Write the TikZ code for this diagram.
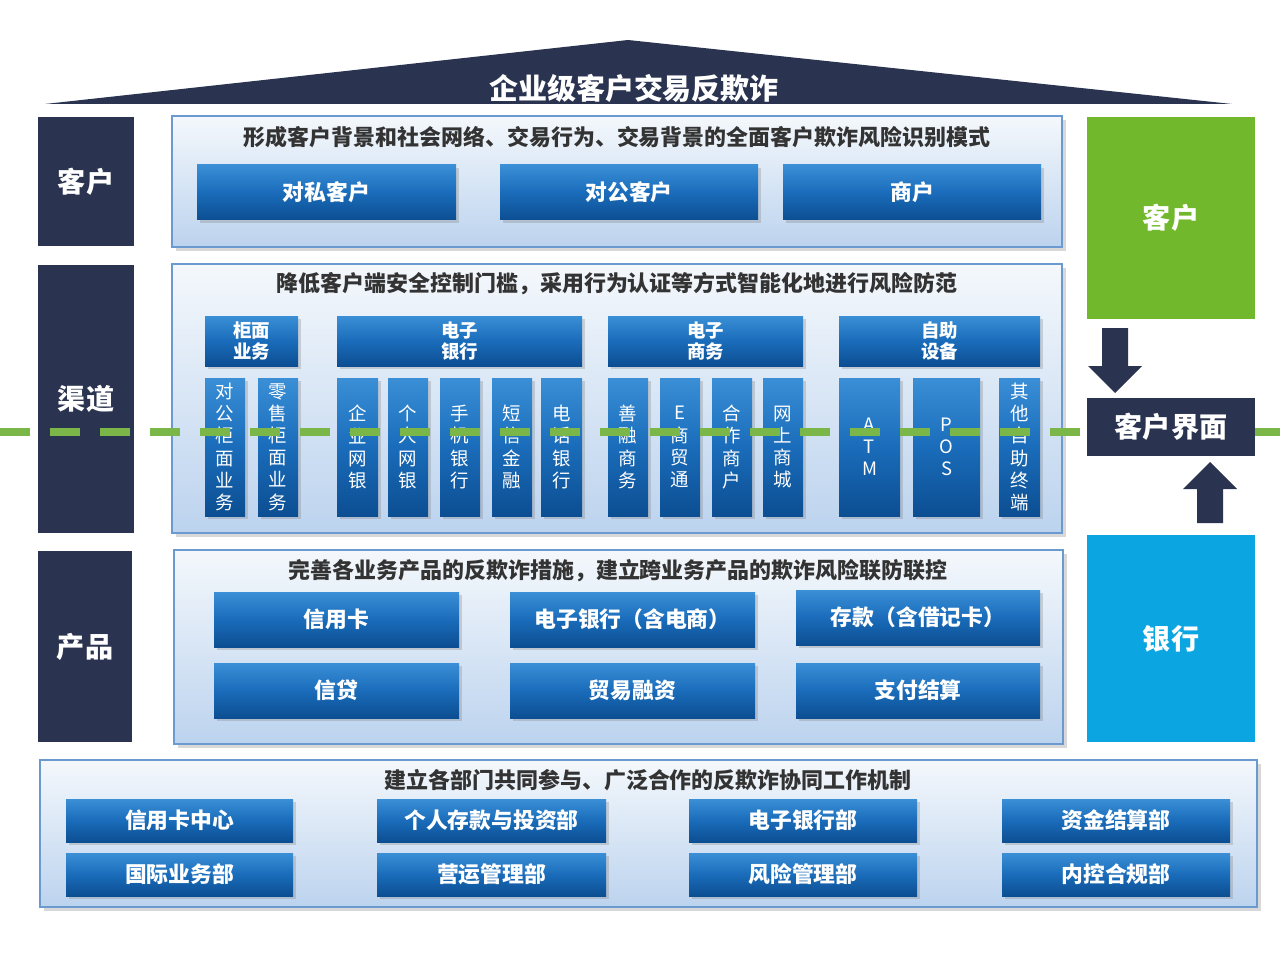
\documentclass[tikz,border=0pt]{standalone}
\usepackage{fontspec}
\setmainfont{Noto Sans CJK SC}
\usetikzlibrary{shadows}
\definecolor{navy}{HTML}{2A3350}
\definecolor{lgreen}{HTML}{72B82C}
\definecolor{cyanb}{HTML}{0BA5E2}
\definecolor{dgreen}{HTML}{7AB648}
\definecolor{btop}{HTML}{3A8FD6}
\definecolor{bmid}{HTML}{1A6CBA}
\definecolor{bbot}{HTML}{0C4E92}
\definecolor{ptop}{HTML}{F4F8FC}
\definecolor{pbot}{HTML}{BCD3EE}
\definecolor{pbord}{HTML}{6A9ACF}
\tikzset{
  panel/.style={draw=pbord,line width=0.8pt,top color=ptop,bottom color=pbot,drop shadow={opacity=0.3,shadow xshift=2pt,shadow yshift=-2pt}},
  bbox/.style={top color=btop,bottom color=bbot,middle color=bmid,drop shadow={opacity=0.3,shadow xshift=1.5pt,shadow yshift=-1.5pt},text=white,font=\bfseries\fontsize{12.4}{14}\selectfont},
  side/.style={fill=navy,text=white,font=\bfseries\fontsize{16}{18}\selectfont},
  head/.style={font=\bfseries\fontsize{12.5}{14}\selectfont,text=black!80},
  vtxt/.style={text=white,font=\fontsize{10.5}{12.6}\selectfont,align=center},
  ghead/.style={text=white,font=\bfseries\fontsize{10.5}{12}\selectfont,align=center},
}
\begin{document}
\begin{tikzpicture}[x=0.02cm,y=-0.02cm]
\useasboundingbox (0,0) rectangle (1280,976);
\fill[white] (0,0) rectangle (1280,976);
% roof
\fill[navy] (45,104) -- (628,40) -- (1232,104) -- cycle;
\node[text=white,font=\bfseries\fontsize{16.5}{18}\selectfont] (title) at (634,88) {企业级客户交易反欺诈};
% left labels
\path[side] (38,117) rectangle (134,246) node[midway] (lk) {客户};
\path[side] (38,265) rectangle (134,533) node[midway] (lq) {渠道};
\path[side] (38,551) rectangle (132,742) node[midway] (lp) {产品};
% customer panel
\path[panel] (172,116) rectangle (1062,247);
\node[head] (h1) at (617,137) {形成客户背景和社会网络、交易行为、交易背景的全面客户欺诈风险识别模式};
\path[bbox] (197,165) rectangle (456,220) node[midway] (c1) {对私客户};
\path[bbox] (500,165) rectangle (758,220) node[midway] (c2) {对公客户};
\path[bbox] (783,165) rectangle (1041,220) node[midway] (c3) {商户};
% channel panel
\path[panel] (172,264) rectangle (1062,533);
\node[head] (h2) at (617,284) {降低客户端安全控制门槛，采用行为认证等方式智能化地进行风险防范};
\path[bbox] (205,316) rectangle (298,366) node[midway,ghead] (g1) {柜面\\业务};
\path[bbox] (337,316) rectangle (582,366) node[midway,ghead] (g2) {电子\\银行};
\path[bbox] (608,316) rectangle (803,366) node[midway,ghead] (g3) {电子\\商务};
\path[bbox] (839,316) rectangle (1040,366) node[midway,ghead] (g4) {自助\\设备};
\foreach \a/\b/\t/\n in {205/245/对\\公\\柜\\面\\业\\务/s1, 258/298/零\\售\\柜\\面\\业\\务/s2,
  337/378/企\\业\\网\\银/s3, 388/428/个\\人\\网\\银/s4, 440/480/手\\机\\银\\行/s5, 492/532/短\\信\\金\\融/s6, 541/582/电\\话\\银\\行/s7,
  608/648/善\\融\\商\\务/s8, 660/700/E\\商\\贸\\通/s9, 712/752/合\\作\\商\\户/s10, 763/803/网\\上\\商\\城/s11,
  839/900/A\\T\\M/s12, 913/980/P\\O\\S/s13, 999/1040/其\\他\\自\\助\\终\\端/s14}
{ \path[bbox] (\a,378) rectangle (\b,516) node[midway,vtxt] (\n) {\t}; }
% product panel
\path[panel] (174,550) rectangle (1063,744);
\node[head] (h3) at (618,571) {完善各业务产品的反欺诈措施，建立跨业务产品的欺诈风险联防联控};
\path[bbox] (214,592) rectangle (459,647) node[midway] (p1) {信用卡};
\path[bbox] (510,592) rectangle (755,647) node[midway] (p2) {电子银行（含电商）};
\path[bbox] (796,590) rectangle (1040,645) node[midway] (p3) {存款（含借记卡）};
\path[bbox] (214,663) rectangle (459,718) node[midway] (p4) {信贷};
\path[bbox] (510,663) rectangle (755,718) node[midway] (p5) {贸易融资};
\path[bbox] (796,663) rectangle (1040,718) node[midway] (p6) {支付结算};
% bottom panel
\path[panel] (40,760) rectangle (1257,907);
\node[head] (h4) at (648,780) {建立各部门共同参与、广泛合作的反欺诈协同工作机制};
\path[bbox] (66,799) rectangle (293,842) node[midway] (d1) {信用卡中心};
\path[bbox] (377,799) rectangle (606,842) node[midway] (d2) {个人存款与投资部};
\path[bbox] (689,799) rectangle (917,842) node[midway] (d3) {电子银行部};
\path[bbox] (1002,799) rectangle (1230,842) node[midway] (d4) {资金结算部};
\path[bbox] (66,853) rectangle (293,896) node[midway] (d5) {国际业务部};
\path[bbox] (377,853) rectangle (606,896) node[midway] (d6) {营运管理部};
\path[bbox] (689,853) rectangle (917,896) node[midway] (d7) {风险管理部};
\path[bbox] (1002,853) rectangle (1230,896) node[midway] (d8) {内控合规部};
% right side
\path[fill=lgreen] (1087,117) rectangle (1255,319) node[midway,text=white,font=\bfseries\fontsize{16}{18}\selectfont] (rk) {客户};
\path[side] (1087,398) rectangle (1255,456) node[midway] (ri) {客户界面};
\path[fill=cyanb] (1087,535) rectangle (1255,742) node[midway,text=white,font=\bfseries\fontsize{16}{18}\selectfont] (rb) {银行};
\fill[navy] (1102,328) -- (1128,328) -- (1128,366) -- (1142,366) -- (1115,393) -- (1088,366) -- (1102,366) -- cycle;
\fill[navy] (1197,523) -- (1223,523) -- (1223,489) -- (1237,489) -- (1210,462) -- (1183,489) -- (1197,489) -- cycle;
% dashed line
\draw[dgreen,line width=4.5pt,dash pattern=on 0.6cm off 0.4cm] (0,432) -- (1087,432);
\draw[dgreen,line width=4.5pt,dash pattern=on 0.6cm off 0.4cm] (1255,432) -- (1280,432);
\end{tikzpicture}
\end{document}
